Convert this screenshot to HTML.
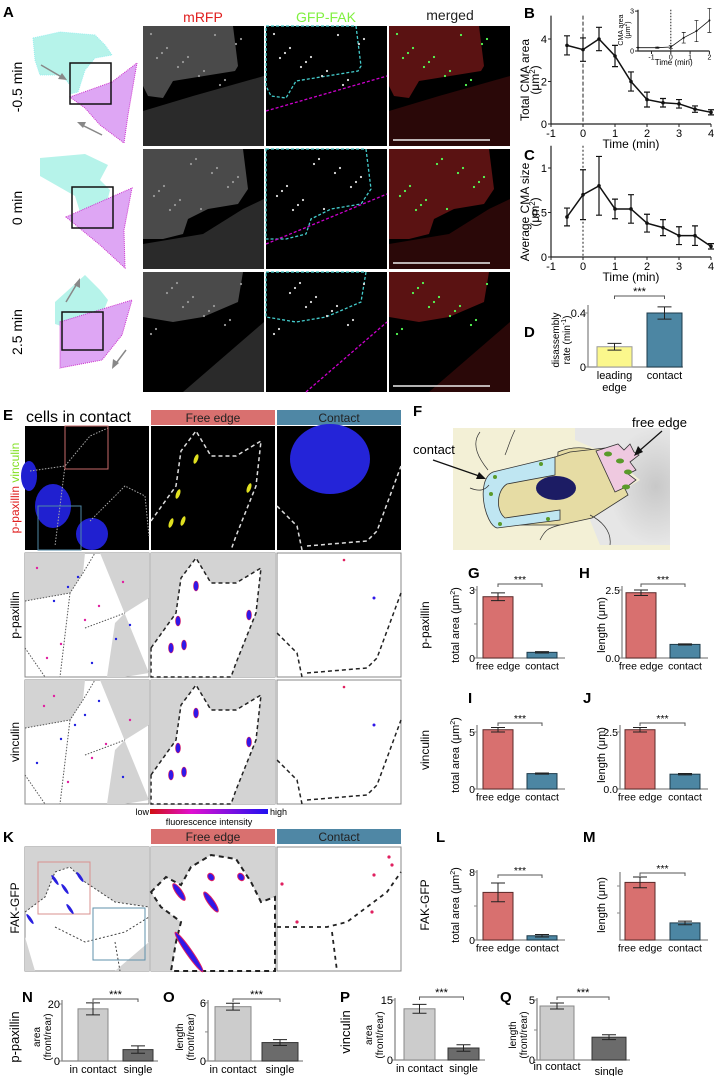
<!DOCTYPE html>
<html><head><meta charset="utf-8"><style>
body{margin:0;background:#fff;}
svg{display:block;font-family:"Liberation Sans",Arial,sans-serif;}
.pl{font-weight:bold;font-size:15px;}
.tk{font-size:10px;}
.al{font-size:11px;}
</style></head><body>
<svg id="fig" width="715" height="1076" viewBox="0 0 715 1076" xmlns="http://www.w3.org/2000/svg">
<defs>
<linearGradient id="cbar" x1="0" x2="1"><stop offset="0" stop-color="#d01010"/><stop offset="0.35" stop-color="#e010d0"/><stop offset="1" stop-color="#2010f0"/></linearGradient>
<radialGradient id="fbg" cx="0.85" cy="0.5" r="0.5"><stop offset="0" stop-color="#c8c8c8"/><stop offset="1" stop-color="#e6e6e6"/></radialGradient>
</defs>

<!-- Panel A -->
<text class="pl" x="3" y="17">A</text>
<text x="203" y="22" font-size="14" fill="#e02020" text-anchor="middle">mRFP</text>
<text x="326" y="22" font-size="14" fill="#80f040" text-anchor="middle">GFP-FAK</text>
<text x="450" y="20" font-size="14" fill="#222" text-anchor="middle">merged</text>
<text transform="translate(22,87) rotate(-90)" font-size="14" text-anchor="middle">-0.5 min</text>
<text transform="translate(22,208) rotate(-90)" font-size="14" text-anchor="middle">0 min</text>
<text transform="translate(22,332) rotate(-90)" font-size="14" text-anchor="middle">2.5 min</text>

<g>
<path d="M33,38 L60,32 L95,35 L105,45 L112,55 L95,58 L85,70 L78,92 L70,94 L70,85 L62,75 L40,75 L35,60 Z" fill="#b6f3ea" stroke="#9ee" stroke-dasharray="1 1"/>
<path d="M70,97 L112,82 L137,63 L134,80 L128,115 L124,143 L100,125 L85,108 Z" fill="#dea6f4" stroke="#c3c" stroke-dasharray="1 1"/>
<rect x="70" y="63" width="41" height="41" fill="none" stroke="#111" stroke-width="1.5"/>
<line x1="41" y1="65" x2="65" y2="79" stroke="#888" stroke-width="1.5"/><path d="M67,80 L58,79 L62,73 Z" fill="#888"/>
<line x1="102" y1="135" x2="80" y2="124" stroke="#888" stroke-width="1.5"/><path d="M77,122 L86,122 L83,128 Z" fill="#888"/>
</g>
<g>
<path d="M40,158 L85,154 L108,165 L100,180 L110,190 L105,210 L80,212 L75,196 L40,176 Z" fill="#b6f3ea"/>
<path d="M66,217 L132,188 L124,230 L125,268 L100,245 Z" fill="#dea6f4" stroke="#c3c" stroke-dasharray="1 1"/>
<rect x="72" y="187" width="41" height="41" fill="none" stroke="#111" stroke-width="1.5"/>
</g>
<g>
<path d="M55,302 L85,275 L100,290 L108,300 L100,320 L80,332 L55,324 Z" fill="#b6f3ea"/>
<path d="M60,322 L132,300 L122,335 L102,360 L60,368 L60,350 Z" fill="#dea6f4" stroke="#c3c" stroke-dasharray="1 1"/>
<rect x="62" y="312" width="41" height="38" fill="none" stroke="#111" stroke-width="1.5"/>
<line x1="66" y1="302" x2="78" y2="282" stroke="#888" stroke-width="1.5"/><path d="M80,278 L80,288 L74,285 Z" fill="#888"/>
<line x1="126" y1="350" x2="114" y2="366" stroke="#888" stroke-width="1.5"/><path d="M112,369 L113,359 L119,363 Z" fill="#888"/>
</g>

<g id="micA"></g>

<!-- Panel E -->
<text class="pl" x="3" y="420">E</text>
<text x="26" y="422" font-size="16">cells in contact</text>
<rect x="151" y="410" width="124" height="15" fill="#d9706f"/>
<text x="213" y="422" font-size="12" text-anchor="middle" fill="#222">Free edge</text>
<rect x="277" y="410" width="124" height="15" fill="#4f87a5"/>
<text x="339" y="422" font-size="12" text-anchor="middle" fill="#222">Contact</text>
<text transform="translate(19,488) rotate(-90)" font-size="12" text-anchor="middle"><tspan fill="#e02020">p-paxillin </tspan><tspan fill="#80e020">vinculin</tspan></text>
<text transform="translate(19,615) rotate(-90)" font-size="12" text-anchor="middle">p-paxillin</text>
<text transform="translate(19,742) rotate(-90)" font-size="12" text-anchor="middle">vinculin</text>
<g id="micE"></g>
<rect x="150" y="809" width="118" height="5" fill="url(#cbar)"/>
<text x="149" y="815" font-size="9" text-anchor="end">low</text>
<text x="270" y="815" font-size="9">high</text>
<text x="209" y="825" font-size="9" text-anchor="middle">fluorescence intensity</text>

<!-- Panel K -->
<text class="pl" x="3" y="842">K</text>
<rect x="151" y="829" width="124" height="15" fill="#d9706f"/>
<text x="213" y="841" font-size="12" text-anchor="middle" fill="#222">Free edge</text>
<rect x="277" y="829" width="124" height="15" fill="#4f87a5"/>
<text x="339" y="841" font-size="12" text-anchor="middle" fill="#222">Contact</text>
<text transform="translate(19,908) rotate(-90)" font-size="12" text-anchor="middle">FAK-GFP</text>

<!-- Panel F -->
<g>
<text class="pl" x="413" y="416">F</text>
<rect x="453" y="428" width="217" height="122" fill="#f3f0d6"/>
<path d="M575,428 L670,428 L670,545 L600,545 L590,520 L595,500 L615,495 L640,480 L610,455 L575,440 Z" fill="url(#fbg)"/>
<path d="M558,452 C575,445 590,448 600,452 L612,490 L595,515 L570,520 L558,525 L555,508 Z" fill="#e6dca4" stroke="#333" stroke-width="0.8"/>
<path d="M493,475 L555,457 L570,452 L605,448 L628,495 L592,518 L560,525 L495,525 Z" fill="#e6dca4" stroke="#333" stroke-width="0.8"/>
<path d="M555,457 L493,472 C475,480 485,525 497,528 L560,520 L560,510 L505,518 C495,510 497,490 507,484 L555,475 Z" fill="#bfe6f2" stroke="#333" stroke-width="0.8"/>
<path d="M596,451 L618,444 L624,450 L630,444 L634,452 L639,455 L630,462 L636,470 L628,474 L636,480 L628,486 L615,492 Z" fill="#efc9e0" stroke="#333" stroke-width="0.8"/>
<ellipse cx="556" cy="488" rx="20" ry="12" fill="#1c1c64"/>
<g fill="#5a9a2a"><circle cx="541" cy="464" r="2"/><circle cx="495" cy="477" r="2"/><circle cx="491" cy="494" r="2"/><circle cx="500" cy="524" r="2"/><circle cx="548" cy="519" r="2"/>
<ellipse cx="608" cy="454" rx="4" ry="2.5"/><ellipse cx="620" cy="461" rx="4" ry="2.5"/><ellipse cx="628" cy="472" rx="4" ry="2.5"/><ellipse cx="626" cy="487" rx="4" ry="2.5"/></g>
<path d="M480,432 C470,445 480,460 488,470 M470,488 C480,492 485,490 489,485 M515,430 C510,440 508,448 505,455 M540,540 C545,530 548,528 560,525 M610,545 C612,530 600,520 590,515" fill="none" stroke="#333" stroke-width="0.7"/>
<text x="413" y="454" font-size="13">contact</text>
<line x1="433" y1="460" x2="482" y2="477" stroke="#111" stroke-width="1.2"/><path d="M486,479 L476,479 L479,472 Z" fill="#111"/>
<text x="632" y="427" font-size="13">free edge</text>
<line x1="662" y1="431" x2="638" y2="452" stroke="#111" stroke-width="1.2"/><path d="M634,456 L638,446 L643,452 Z" fill="#111"/>
</g>

<text class="pl" x="468" y="578">G</text>
<text class="pl" x="579" y="578">H</text>
<text class="pl" x="468" y="703">I</text>
<text class="pl" x="583" y="703">J</text>
<text class="pl" x="436" y="842">L</text>
<text class="pl" x="583" y="842">M</text>
<text transform="translate(429,625) rotate(-90)" font-size="12" text-anchor="middle">p-paxillin</text>
<text transform="translate(429,750) rotate(-90)" font-size="12" text-anchor="middle">vinculin</text>
<text transform="translate(429,905) rotate(-90)" font-size="12" text-anchor="middle">FAK-GFP</text>

<text class="pl" x="524" y="18">B</text>
<text class="pl" x="524" y="160">C</text>
<text class="pl" x="524" y="337">D</text>
<text class="pl" x="22" y="1002">N</text>
<text class="pl" x="163" y="1002">O</text>
<text class="pl" x="340" y="1002">P</text>
<text class="pl" x="500" y="1002">Q</text>
<text transform="translate(19,1037) rotate(-90)" font-size="13" text-anchor="middle">p-paxillin</text>
<text transform="translate(350,1032) rotate(-90)" font-size="13" text-anchor="middle">vinculin</text>

<g id="charts"></g>
</svg>
<script>
// ---- data ----
const bTimes = [-0.5,0,0.5,1,1.5,2,2.5,3,3.5,4];
const bVals = [3.7,3.5,4.0,3.2,2.0,1.15,1.0,0.95,0.7,0.55];
const bErrs = [0.45,0.55,0.55,0.5,0.45,0.35,0.2,0.2,0.15,0.12];
const bTicksX = [-1,0,1,2,3,4];
const bTicksY = [0,2,4];
const insetTimes = [-1.7,-0.7,0,0.67,1.33,2];
const insetVals = [0.25,0.25,0.3,1.0,1.5,2.3];
const insetErrs = [0,0.05,0.1,0.4,0.8,0.9];
const cVals = [0.45,0.7,0.8,0.54,0.54,0.38,0.33,0.24,0.24,0.12];
const cErrs = [0.1,0.28,0.33,0.11,0.16,0.1,0.09,0.1,0.11,0.03];
const cTicksY = [0,0.5,1];
const dCats = ["leading\nedge","contact"];
const dVals = [0.15,0.40];
const dErrs = [0.025,0.045];
const feCats = ["free edge","contact"];
const gVals = [2.7,0.25], gErrs = [0.17,0.03];
const hVals = [2.4,0.5], hErrs = [0.1,0.02];
const iVals = [5.2,1.35], iErrs = [0.2,0.05];
const jVals = [2.6,0.65], jErrs = [0.1,0.03];
const lVals = [5.6,0.5], lErrs = [1.1,0.15];
const mVals = [6.4,1.9], mErrs = [0.6,0.2];
const nqCats = ["in contact","single"];
const nVals = [18.3,4.0], nErrs = [2.1,1.3];
const oVals = [5.6,1.9], oErrs = [0.35,0.3];
const pVals = [12.8,3.0], pErrs = [1.1,0.8];
const qVals = [4.5,1.9], qErrs = [0.25,0.2];

const NS="http://www.w3.org/2000/svg";
const root=document.getElementById('charts');
function mk(tag,attrs,parent){const e=document.createElementNS(NS,tag);for(const k in attrs)e.setAttribute(k,attrs[k]);(parent||root).appendChild(e);return e;}
function txt(x,y,s,size,anchor,parent,extra){const e=mk('text',Object.assign({x:x,y:y,'font-size':size,'text-anchor':anchor||'middle'},extra||{}),parent);e.textContent=s;return e;}

// ---- line chart ----
function lineChart(name,cfg,xs,vals,errs,tx,ty){
  const g=mk('g',{});
  
  
  const sx=t=>cfg.x0+(t-cfg.xmin)*cfg.xs, sy=v=>cfg.y0-v*cfg.ys;
  const ax=mk('path',{d:`M${cfg.x0},${sy(cfg.ymax)} L${cfg.x0},${cfg.y0} L${sx(cfg.xmax)},${cfg.y0}`,fill:'none',stroke:'#222','stroke-width':1.2},g);
  
  
  tx.forEach(t=>{mk('line',{x1:sx(t),x2:sx(t),y1:cfg.y0,y2:cfg.y0+3,stroke:'#222'},g);const l=txt(sx(t),cfg.y0+13*cfg.fs/11,String(t),cfg.fs,'middle',g);
    
    });
  ty.forEach(v=>{mk('line',{x1:cfg.x0-3,x2:cfg.x0,y1:sy(v),y2:sy(v),stroke:'#222'},g);const l=txt(cfg.x0-4,sy(v)+4*cfg.fs/11,String(v),cfg.fs,'end',g);
    
    });
  const vl=mk('line',{x1:sx(0),x2:sx(0),y1:sy(cfg.ymax),y2:cfg.y0,stroke:'#222','stroke-dasharray':cfg.dash,'stroke-width':1},g);
  
  
  const pl=mk('polyline',{points:xs.map((t,i)=>sx(t)+','+sy(vals[i])).join(' '),fill:'none',stroke:'#111','stroke-width':cfg.lw},g);
  
  
  xs.forEach((t,i)=>{const x=sx(t);
    const e=mk('path',{d:`M${x},${sy(vals[i]-errs[i])} L${x},${sy(vals[i]+errs[i])} M${x-cfg.cap},${sy(vals[i]-errs[i])} h${2*cfg.cap} M${x-cfg.cap},${sy(vals[i]+errs[i])} h${2*cfg.cap}`,stroke:'#111','stroke-width':cfg.lw*0.8,fill:'none'},g);
    
    
    const p=mk('circle',{cx:x,cy:sy(vals[i]),r:cfg.r,fill:'#111'},g);
    
    });
  if(cfg.xlab){const xl=txt((cfg.x0+sx(cfg.xmax))/2,cfg.y0+cfg.xlo,cfg.xlab,cfg.fs+1,'middle',g);
    
    }
  return g;
}
lineChart('chart-b-total-cma-area',{x0:551,xmin:-1,xmax:4,xs:32,y0:124,ys:21.25,ymax:5.1,fs:11,dash:'4 2',lw:1.5,cap:3,r:1.8,xlab:'Time (min)',xlo:24},bTimes,bVals,bErrs,bTicksX,bTicksY);
lineChart('chart-b-inset',{x0:638,xmin:-1.7,xmax:2,xs:19.3,y0:51,ys:13.3,ymax:3.1,fs:7,dash:'1.5 1.5',lw:0.8,cap:2,r:1,xlab:'Time (min)',xlo:14},insetTimes,insetVals,insetErrs,[-1,0,1,2],[0,3]);
lineChart('chart-c-average-cma-size',{x0:551,xmin:-1,xmax:4,xs:32,y0:257,ys:89,ymax:1.25,fs:11,dash:'2 2',lw:1.5,cap:3,r:1.8,xlab:'Time (min)',xlo:24},bTimes,cVals,cErrs,bTicksX,cTicksY);
function vlabel(x,y,lines,size,name,gap){const t=mk('text',{transform:`translate(${x},${y}) rotate(-90)`,'font-size':size,'text-anchor':'middle'});
  lines.forEach((s,i)=>{const ts=mk('tspan',{x:0,dy:i?(gap||size*1.1):0},t);ts.innerHTML=s;});
  
  }
vlabel(529,80,['Total CMA area','(μm<tspan dy="-4" font-size="8">2</tspan><tspan dy="4">)</tspan>'],12,'y-axis-title-b',10);
vlabel(529,212,['Average CMA size','(μm<tspan dy="-4" font-size="8">2</tspan><tspan dy="4">)</tspan>'],12,'y-axis-title-c',10);
vlabel(623,30,['CMA area','(μm<tspan dy="-3" font-size="5">2</tspan><tspan dy="3">)</tspan>'],7,'y-axis-title-inset',7);

// ---- bar charts ----
function barChart(name,c,cats,vals,errs,ticks,tickLabels,colors,strokes){
  const g=mk('g',{});
  
  
  const sy=v=>c.y0-v*c.ys;
  const ax=mk('path',{d:`M${c.ax},${c.ytop} L${c.ax},${c.y0} L${c.xend},${c.y0}`,fill:'none',stroke:'#888','stroke-width':1.3},g);
  
  
  ticks.forEach((v,i)=>{mk('line',{x1:c.ax-3,x2:c.ax,y1:sy(v),y2:sy(v),stroke:'#888'},g);
    if(tickLabels[i]!==''){const l=txt(c.ax-2,sy(v)+4,tickLabels[i],c.fs,'end',g);
      
      }});
  const cx=[];
  cats.forEach((cat,i)=>{const x=c.bx[i],w=c.bw;cx.push(x+w/2);
    const b=mk('rect',{x:x,y:sy(vals[i]),width:w,height:c.y0-sy(vals[i]),fill:colors[i],stroke:strokes[i],'stroke-width':1},g);
    
    
    const m=x+w/2,lo=sy(vals[i]-errs[i]),hi=sy(vals[i]+errs[i]);
    const e=mk('path',{d:`M${m},${lo} L${m},${hi} M${m-c.cap},${lo} h${2*c.cap} M${m-c.cap},${hi} h${2*c.cap}`,stroke:'#222','stroke-width':1,fill:'none'},g);
    
    
    cat.split('\n').forEach((s,j)=>{const l=txt(m+(c.lx?c.lx[i]:0),c.y0+c.fs+1+j*(c.fs+1)+(c.ly?c.ly[i]:0),s,c.fs,'middle',g);
      
      });});
  const by=c.sigy;
  const br=mk('path',{d:`M${cx[0]},${by+3} L${cx[0]},${by} L${cx[1]},${by} L${cx[1]},${by+3}`,fill:'none',stroke:'#555','stroke-width':1},g);
  
  
  const st=txt((cx[0]+cx[1])/2,by-1,'***',c.fs,'middle',g);
  
  
}
const R='#d8706f',B='#4c86a3',RS='#5a2a2a',BS='#1d3a4a';
barChart('chart-d',{ax:588,y0:367,ys:135,ytop:305,xend:683,bx:[597,647],bw:35,cap:7,fs:11,sigy:296},dCats,dVals,dErrs,[0,0.4],['0','0.4'],['#fbf78c',B],['#999','#1d3a4a']);
vlabel(559,340,['disassembly','rate (min<tspan dy="-4" font-size="7">-1</tspan><tspan dy="4">)</tspan>'],10,'y-axis-title-d');
barChart('chart-g',{ax:477,y0:658,ys:22.7,ytop:586,xend:565,bx:[483,527],bw:30,cap:7,fs:10.5,sigy:584},feCats,gVals,gErrs,[0,1.5,3],['0','','3'],[R,B],[RS,BS]);
barChart('chart-h',{ax:622,y0:658,ys:27.2,ytop:586,xend:708,bx:[626,670],bw:30,cap:7,fs:10.5,sigy:584},feCats,hVals,hErrs,[0,2.5],['0.0','2.5'],[R,B],[RS,BS]);
barChart('chart-i',{ax:477,y0:789,ys:11.4,ytop:725,xend:565,bx:[483,527],bw:30,cap:7,fs:10.5,sigy:723},feCats,iVals,iErrs,[0,5],['0','5'],[R,B],[RS,BS]);
barChart('chart-j',{ax:620,y0:789,ys:22.8,ytop:725,xend:708,bx:[625,670],bw:30,cap:7,fs:10.5,sigy:723},feCats,jVals,jErrs,[0,2.5],['0.0','2.5'],[R,B],[RS,BS]);
barChart('chart-l',{ax:477,y0:940,ys:8.5,ytop:870,xend:565,bx:[483,527],bw:30,cap:7,fs:10.5,sigy:875},feCats,lVals,lErrs,[0,4,8],['0','','8'],[R,B],[RS,BS]);
barChart('chart-m',{ax:620,y0:940,ys:9,ytop:872,xend:708,bx:[625,670],bw:30,cap:7,fs:10.5,sigy:873},feCats,mVals,mErrs,[3,6],['',''],[R,B],[RS,BS]);
const LG='#cccccc',DG='#6b6b6b';
barChart('chart-n',{ax:62,y0:1061,ys:2.85,ytop:1000,xend:158,bx:[78,123],bw:30,cap:7,fs:11,sigy:999},nqCats,nVals,nErrs,[0,20],['0','20'],[LG,DG],['#888','#333']);
barChart('chart-o',{ax:208,y0:1061,ys:9.7,ytop:1000,xend:303,bx:[215,262],bw:36,cap:7,fs:11,sigy:999},nqCats,oVals,oErrs,[0,3,6],['0','','6'],[LG,DG],['#888','#333']);
barChart('chart-p',{ax:395,y0:1060,ys:4,ytop:998,xend:485,bx:[404,448],bw:31,cap:7,fs:11,sigy:997},nqCats,pVals,pErrs,[0,15],['0','15'],[LG,DG],['#888','#333']);
barChart('chart-q',{ax:537,y0:1060,ys:12,ytop:998,xend:630,bx:[540,592],bw:34,cap:7,fs:11,sigy:997,lx:[0,0],ly:[-2,3]},nqCats,qVals,qErrs,[0,2.5,5],['0','','5'],[LG,DG],['#888','#333']);
vlabel(459,625,['total area (μm<tspan dy="-4" font-size="7">2</tspan><tspan dy="4">)</tspan>'],11,'y-axis-title-g');
vlabel(605,625,['length (μm)'],11,'y-axis-title-h');
vlabel(459,755,['total area (μm<tspan dy="-4" font-size="7">2</tspan><tspan dy="4">)</tspan>'],11,'y-axis-title-i');
vlabel(605,755,['length (μm)'],11,'y-axis-title-j');
vlabel(459,905,['total area (μm<tspan dy="-4" font-size="7">2</tspan><tspan dy="4">)</tspan>'],11,'y-axis-title-l');
vlabel(605,905,['length (μm)'],11,'y-axis-title-m');
vlabel(40,1037,['area','(front/rear)'],10,'y-axis-title-n');
vlabel(183,1037,['length','(front/rear)'],10,'y-axis-title-o');
vlabel(372,1035,['area','(front/rear)'],10,'y-axis-title-p');
vlabel(516,1035,['length','(front/rear)'],10,'y-axis-title-q');

// ---- micrographs (decorative) ----
const mA=document.getElementById('micA');
const rowsY=[26,149,272], colsX=[143,266,389];
rowsY.forEach((y,r)=>{colsX.forEach((x,c)=>{
  const g=mk('g',{transform:`translate(${x},${y})`},mA);
  
  
  mk('rect',{width:121,height:120,fill:'#000'},g);
  const top = r===0?'M0,0 L90,0 L95,40 L92,45 L30,55 L20,72 L5,70 L0,60 Z':(r===1?'M0,0 L100,0 L105,40 L95,55 L65,60 L45,70 L40,85 L20,90 L0,90 Z':'M0,0 L100,0 L95,30 L60,45 L30,50 L0,45 Z');
  const bot = r===0?'M0,85 L50,70 L121,50 L121,120 L0,120 Z':(r===1?'M0,95 L60,85 L100,60 L121,50 L121,120 L0,120 Z':'M40,120 L121,50 L121,120 Z');
  const cols=[['#4a4a4a','#2a2a2a'],['#000','#000'],['#5a1212','#2a0808']][c];
  mk('path',{d:top,fill:cols[0]},g);mk('path',{d:bot,fill:cols[1]},g);
  if(c===1){mk('path',{d:top,fill:'none',stroke:'#4cc',"stroke-dasharray":'3 2','stroke-width':1.3},g);
    mk('path',{d:r===2?'M40,120 L121,50':'M0,'+(r===0?85:95)+' L121,'+(r===0?50:45),fill:'none',stroke:'#c0c','stroke-dasharray':'3 2','stroke-width':1.3},g);}
  for(let k=0;k<14;k++){const px=(k*37+r*13)%95+8,py=(k*23+r*29)%55+8;
    mk('circle',{cx:px,cy:py,r:1.1,fill:c===0?'#999':(c===1?'#ddd':'#5f5')},g);}
  if(c===2) mk('line',{x1:4,x2:101,y1:114,y2:114,stroke:'#eee','stroke-width':1.5},g);
});});

const mE=document.getElementById('micE');
function panel(x,y,kind){
  const g=mk('g',{transform:`translate(${x},${y})`},mE);
  
  
  const w=124,h=124;
  if(kind.startsWith('if')){mk('rect',{width:w,height:h,fill:'#000'},g);}
  else {mk('rect',{width:w,height:h,fill:'#fff',stroke:'#888'},g);}
  return g;
}
let g=panel(25,426,'if-overview');
mk('ellipse',{cx:28,cy:80,rx:18,ry:22,fill:'#2020d0'},g);mk('ellipse',{cx:4,cy:50,rx:8,ry:15,fill:'#2020d0'},g);mk('ellipse',{cx:67,cy:108,rx:16,ry:16,fill:'#2020d0'},g);
mk('path',{d:'M5,45 L40,40 L65,10 L83,2 M40,40 L30,120 M65,95 L100,60 L120,70 L124,110',fill:'none',stroke:'#aaa','stroke-dasharray':'1.5 1.5'},g);
mk('rect',{x:40,y:0,width:43,height:43,fill:'none',stroke:'#c76a6a'},g);mk('rect',{x:13,y:80,width:43,height:44,fill:'none',stroke:'#4f87a5'},g);
g=panel(151,426,'if-free-edge');
mk('path',{d:'M0,95 L25,60 L30,25 L45,5 L60,30 L85,30 L110,15 L105,60 L85,110 L80,124',fill:'none',stroke:'#ddd','stroke-dasharray':'4 3','stroke-width':1.5},g);
[[45,33],[27,68],[98,62],[32,95],[20,97]].forEach(p=>mk('ellipse',{cx:p[0],cy:p[1],rx:2,ry:5,fill:'#e0e020',transform:`rotate(20 ${p[0]} ${p[1]})`},g));
g=panel(277,426,'if-contact');
mk('ellipse',{cx:53,cy:33,rx:40,ry:35,fill:'#2424d8'},g);
mk('path',{d:'M0,80 L20,100 L25,124 M30,120 L90,115 L100,105 L124,40',fill:'none',stroke:'#ddd','stroke-dasharray':'4 3','stroke-width':1.5},g);
[553,680].forEach((yy,ri)=>{
  let g=panel(25,yy,'binary-overview-'+ri);
  mk('path',{d:'M0,0 L60,0 L58,20 L45,40 L0,48 Z',fill:'#d3d3d3'},g);
  mk('path',{d:'M75,0 L124,0 L124,45 L100,60 L90,70 L82,124 L100,124 L124,120 Z',fill:'#d3d3d3'},g);
  mk('path',{d:'M0,48 L45,40 L58,20 L70,0 M45,40 L35,124 M0,95 L20,124 M60,75 L100,60',fill:'none',stroke:'#555','stroke-dasharray':'1.5 1.5'},g);
  for(let k=0;k<12;k++)mk('circle',{cx:(k*31+ri*7)%100+12,cy:(k*19+ri*11)%100+15,r:1.2,fill:k%2?'#2020e0':'#e020a0'},g);
  g=panel(151,yy,'binary-free-edge-'+ri);
  mk('rect',{width:124,height:124,fill:'#d3d3d3'},g);
  mk('path',{d:'M0,95 L25,60 L30,25 L45,5 L60,30 L85,30 L110,15 L105,60 L85,110 L80,124 L0,124 Z',fill:'#fff',stroke:'#222','stroke-dasharray':'4 3','stroke-width':1.5},g);
  [[45,33],[27,68],[98,62],[20,95],[33,92]].forEach(p=>mk('ellipse',{cx:p[0],cy:p[1],rx:2.5,ry:5,fill:'#3018e8',stroke:'#e02060','stroke-width':0.6},g));
  g=panel(277,yy,'binary-contact-'+ri);
  mk('path',{d:'M0,80 L20,100 L25,124 M30,120 L90,115 L100,105 L124,40',fill:'none',stroke:'#222','stroke-dasharray':'4 3','stroke-width':1.5},g);
  mk('circle',{cx:97,cy:45,r:1.5,fill:'#3018e8'},g);mk('circle',{cx:67,cy:7,r:1.3,fill:'#e02060'},g);
});
g=panel(25,847,'fak-overview');
mk('path',{d:'M0,0 L124,0 L124,60 L90,55 L60,35 L45,20 L30,25 L20,50 L0,65 Z',fill:'#d3d3d3'},g);
mk('path',{d:'M0,90 L10,124 L0,124 Z M90,124 L124,95 L124,124 Z',fill:'#d3d3d3'},g);
mk('path',{d:'M0,65 L20,50 L30,25 L45,20 L60,35 L90,55 L124,60 M30,80 L60,95 L100,85 L124,70 M90,95 L95,124',fill:'none',stroke:'#444','stroke-dasharray':'2 2'},g);
mk('rect',{x:13,y:15,width:52,height:52,fill:'none',stroke:'#d8908f'},g);mk('rect',{x:68,y:61,width:52,height:52,fill:'none',stroke:'#5f90ab'},g);
[[30,33],[40,42],[55,30],[45,62],[5,72]].forEach(p=>mk('ellipse',{cx:p[0],cy:p[1],rx:1.5,ry:6,fill:'#2a20e0',transform:`rotate(-35 ${p[0]} ${p[1]})`},g));
g=panel(151,847,'fak-free-edge');
mk('rect',{width:124,height:124,fill:'#d3d3d3'},g);
mk('path',{d:'M0,45 L15,30 L30,38 L40,20 L60,8 L85,12 L100,35 L110,55 L124,50 L124,124 L20,124 L25,95 L30,75 L10,60 Z',fill:'#fff',stroke:'#222','stroke-dasharray':'5 4','stroke-width':2},g);
[[28,45,25],[60,55,30],[38,105,60],[90,30,10],[60,30,10]].forEach(p=>mk('ellipse',{cx:p[0],cy:p[1],rx:3,ry:p[2]/2.5,fill:'#3018e8',stroke:'#e02060','stroke-width':1,transform:`rotate(-35 ${p[0]} ${p[1]})`},g));
g=panel(277,847,'fak-contact');
mk('path',{d:'M0,80 L50,80 L70,75 L90,60 L110,45 L124,25 M55,85 L60,124',fill:'none',stroke:'#222','stroke-dasharray':'4 4','stroke-width':1.8},g);
[[112,10],[115,18],[97,28],[5,37],[20,75],[95,65]].forEach(p=>mk('circle',{cx:p[0],cy:p[1],r:1.6,fill:'#e02060'},g));
</script>
</body></html>
